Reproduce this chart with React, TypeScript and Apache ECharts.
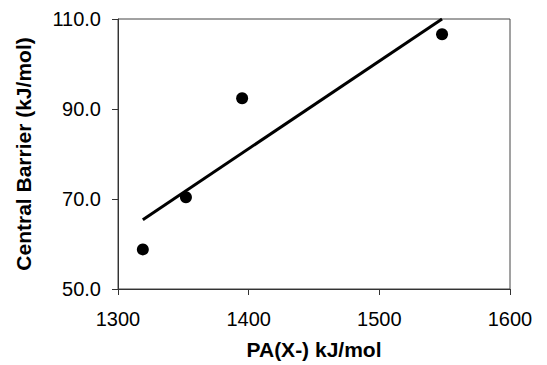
import React, { useEffect, useRef } from "react";
import * as echarts from "echarts";

const paX = [1319, 1352, 1395, 1548];
const barrierY = [58.8, 70.4, 92.4, 106.6];
const trendX = [1319, 1548];
const trendY = [65.4, 110.0];
const xTicks = [1300, 1400, 1500, 1600];
const yTicks = [50, 70, 90, 110];

export default function App() {
  const ref = useRef<HTMLDivElement>(null);
  useEffect(() => {
    if (!ref.current) return;
    const chart = echarts.init(ref.current, null, { renderer: "svg" });
    const font = "Liberation Sans, Arial, sans-serif";
    chart.setOption({
      animation: false,
      backgroundColor: "#ffffff",
      grid: {
        left: 118,
        right: 37,
        top: 19,
        bottom: 74,
        show: true,
        borderColor: "#444",
        borderWidth: 1,
        backgroundColor: "transparent",
      },
      xAxis: {
        type: "value",
        min: xTicks[0],
        max: xTicks[xTicks.length - 1],
        interval: 100,
        name: "PA(X-) kJ/mol",
        nameLocation: "middle",
        nameGap: 50,
        nameTextStyle: { fontFamily: font, fontSize: 21, fontWeight: "bold", color: "#000" },
        axisLine: { show: true, lineStyle: { color: "#333", width: 1 } },
        axisTick: { show: true, inside: false, length: 6, lineStyle: { color: "#333" } },
        splitLine: { show: false },
        axisLabel: {
          fontFamily: font,
          fontSize: 20,
          color: "#000",
          margin: 20,
          formatter: (v: number) => String(v),
        },
      },
      yAxis: {
        type: "value",
        min: yTicks[0],
        max: yTicks[yTicks.length - 1],
        interval: 20,
        name: "Central Barrier (kJ/mol)",
        nameLocation: "middle",
        nameGap: 84,
        nameTextStyle: { fontFamily: font, fontSize: 21, fontWeight: "bold", color: "#000" },
        axisLine: { show: true, lineStyle: { color: "#333", width: 1 } },
        axisTick: { show: true, inside: false, length: 6, lineStyle: { color: "#333" } },
        splitLine: { show: false },
        axisLabel: {
          fontFamily: font,
          fontSize: 20,
          color: "#000",
          margin: 17,
          formatter: (v: number) => v.toFixed(1),
        },
      },
      series: [
        {
          type: "line",
          data: trendX.map((x, i) => [x, trendY[i]]),
          showSymbol: false,
          symbol: "none",
          lineStyle: { color: "#000", width: 3 },
          z: 2,
        },
        {
          type: "scatter",
          data: paX.map((x, i) => [x, barrierY[i]]),
          symbol: "circle",
          symbolSize: 12,
          itemStyle: { color: "#000", opacity: 1 },
          z: 3,
        },
      ],
    });
    return () => chart.dispose();
  }, []);
  return <div ref={ref} style={{ width: 547, height: 365, position: "absolute", left: 0, top: 0 }} />;
}
